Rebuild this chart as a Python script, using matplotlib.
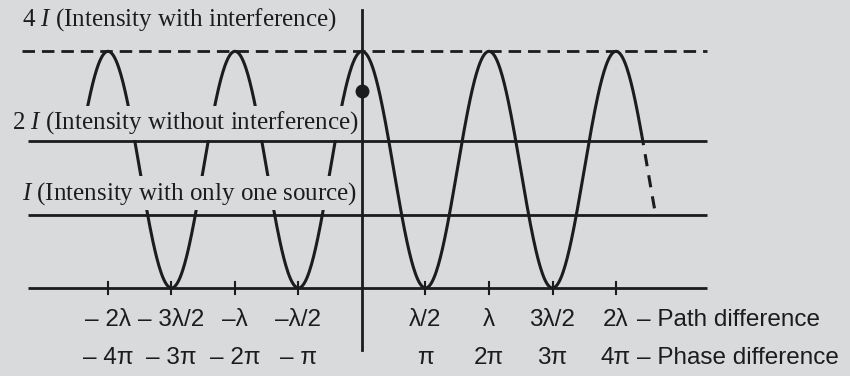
import numpy as np
import matplotlib
matplotlib.use('Agg')
import matplotlib.pyplot as plt

'''
Interference pattern: intensity with interference (4I cos^2) against path / phase difference,
with the reference levels I, 2I and 4I.
'''

# tick positions, in units of wavelength
tick_pos = [-2, -1.5, -1, -0.5, 0.5, 1, 1.5, 2]
path_labels = ['– 2λ', '– 3λ/2', '–λ', '–λ/2', 'λ/2', 'λ', '3λ/2', '2λ']
phase_labels = ['– 4π', '– 3π', '– 2π', '– π', 'π', '2π', '3π', '4π']

# reference levels (drawn height, not to scale in the original figure)
level_names = ['$I$ (Intensity with only one source)',
               '2 $I$ (Intensity without interference)',
               '4 $I$ (Intensity with interference)']
level_heights = [0.0, 1.0, 2.0, 3.22]   # 0, I, 2I, 4I
peak_height = 3.22

# extent of the curve (in wavelengths): solid part, then dashed tail
curve_start = -2.16
solid_end = 2.20
dashed_end = 2.31

BG = '#d9dadb'
INK = '#1c1c1c'

plt.rcParams['mathtext.fontset'] = 'custom'
plt.rcParams['mathtext.rm'] = 'Liberation Serif'
plt.rcParams['mathtext.it'] = 'Liberation Serif:italic'


def intensity(x):
    # phase = 2*pi*x, I = 4I cos^2(phase/2)
    return peak_height * np.cos(np.pi * x) ** 2


def main():
    fig = plt.figure(figsize=(8.5, 3.76), dpi=100, facecolor=BG)
    ax = fig.add_axes([0, 0, 1, 1])
    ax.set_facecolor(BG)
    ax.set_xlim(-362 / 127, 488 / 127)
    ax.set_ylim(-88 / 73.5, 288 / 73.5)
    ax.axis('off')

    lw = 2.0
    # horizontal lines
    for h in level_heights[:3]:
        ax.plot([-2.63, 2.72], [h, h], color=INK, lw=lw, zorder=5, solid_capstyle='butt')
    ax.plot([-2.68, 2.72], [level_heights[3]] * 2, color=INK, lw=lw, zorder=5,
            dashes=(4.5, 2.5))

    # vertical axis and dot
    ax.plot([0, 0], [-0.84, 3.78], color=INK, lw=lw, zorder=5)
    ax.plot([0], [2.68], 'o', color=INK, ms=9, zorder=6)

    # small ticks on the zero line
    for t in tick_pos:
        ax.plot([t, t], [-0.08, 0.08], color=INK, lw=1.5, zorder=5)

    # the interference curve
    x = np.linspace(curve_start, solid_end, 800)
    ax.plot(x, intensity(x), color=INK, lw=2.2, zorder=2)
    xd = np.linspace(solid_end, dashed_end, 50)
    ax.plot(xd, intensity(xd), color=INK, lw=2.2, zorder=2, dashes=(4, 3))

    # level labels (they hide the curve behind them)
    label_y = [1.29, 2.245, 3.65]
    label_x = [-2.68, -2.755, -2.68]
    for name, lx, ly in zip(level_names, label_x, label_y):
        ax.text(lx, ly, name, family='Liberation Serif', fontsize=18, color=INK,
                ha='left', va='center', zorder=3,
                bbox=dict(boxstyle='square,pad=0.15', fc=BG, ec='none'))

    # tick labels
    for t, pl, ph in zip(tick_pos, path_labels, phase_labels):
        ax.text(t, -0.44, pl, family='Liberation Sans', fontsize=17.5, color=INK,
                ha='center', va='center')
        ax.text(t, -0.95, ph, family='Liberation Sans', fontsize=17.5, color=INK,
                ha='center', va='center')
    ax.text(2.165, -0.44, '– Path difference', family='Liberation Sans', fontsize=17.5,
            color=INK, ha='left', va='center')
    ax.text(2.165, -0.95, '– Phase difference', family='Liberation Sans', fontsize=17.5,
            color=INK, ha='left', va='center')

    fig.savefig('out.png', dpi=100, facecolor=BG)


if __name__ == "__main__":
    main()
